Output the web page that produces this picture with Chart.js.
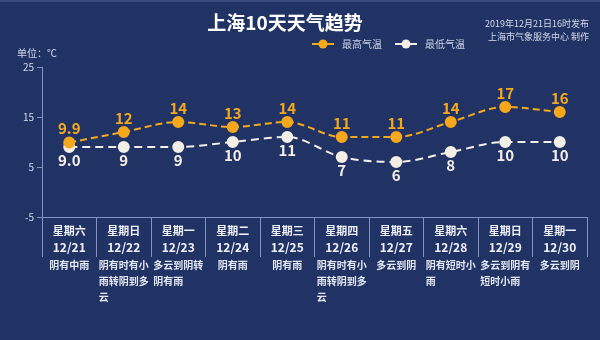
<!DOCTYPE html>
<html>
<head>
<meta charset="utf-8">
<script src="https://cdn.jsdelivr.net/npm/chart.js@4/dist/chart.umd.min.js"></script>
<style>
  html, body { margin: 0; padding: 0; background: #213365; }
  #wrap { width: 600px; height: 340px; }
</style>
</head>
<body>
<div id="wrap"><canvas id="weatherChart" width="600" height="340"></canvas></div>
<script>
// datos del pronóstico
const weekdays = ["星期六", "星期日", "星期一", "星期二", "星期三", "星期四", "星期五", "星期六", "星期日", "星期一"];
const dates = ["12/21", "12/22", "12/23", "12/24", "12/25", "12/26", "12/27", "12/28", "12/29", "12/30"];
const weather = ["阴有中雨", "阴有时有小雨转阴到多云", "多云到阴转阴有雨", "阴有雨", "阴有雨", "阴有时有小雨转阴到多云", "多云到阴", "阴有短时小雨", "多云到阴有短时小雨", "多云到阴"];
const highTemps = [9.9, 12, 14, 13, 14, 11, 11, 14, 17, 16];
const lowTemps = [9.0, 9, 9, 10, 11, 7, 6, 8, 10, 10];
const highLabels = ["9.9", "12", "14", "13", "14", "11", "11", "14", "17", "16"];
const lowLabels = ["9.0", "9", "9", "10", "11", "7", "6", "8", "10", "10"];
const yTicks = [-5, 5, 15, 25];

const FONT = '"Noto Sans CJK SC", "Noto Sans", sans-serif';
const ORANGE = "#f5a81c";
const WHITE = "#f3eee6";
const AXIS = "#8393bf";

// cabecera: título, leyenda, unidad
const headerPlugin = {
  id: "header",
  beforeDraw(chart) {
    const ctx = chart.ctx;
    ctx.save();
    ctx.fillStyle = "#3b4b7b";
    ctx.fillRect(0, 0, chart.width, 2);

    ctx.fillStyle = "#ffffff";
    ctx.font = "bold 19px " + FONT;
    ctx.textAlign = "center";
    ctx.textBaseline = "middle";
    ctx.fillText("上海10天天气趋势", 285, 23);

    ctx.font = "9px " + FONT;
    ctx.fillStyle = "#d4daea";
    ctx.textAlign = "right";
    ctx.fillText("2019年12月21日16时发布", 589, 24);
    ctx.fillText("上海市气象服务中心 制作", 589, 37);

    ctx.textAlign = "left";
    ctx.font = "10px " + FONT;
    ctx.fillText("单位：℃", 17, 53);

    // leyenda
    const items = [
      { x: 312, color: ORANGE, text: "最高气温" },
      { x: 395, color: WHITE, text: "最低气温" }
    ];
    items.forEach(it => {
      ctx.strokeStyle = it.color;
      ctx.lineWidth = 2;
      ctx.beginPath();
      ctx.moveTo(it.x, 44);
      ctx.lineTo(it.x + 22, 44);
      ctx.stroke();
      ctx.fillStyle = it.color;
      ctx.beginPath();
      ctx.arc(it.x + 11, 44, 4.5, 0, Math.PI * 2);
      ctx.fill();
      ctx.fillStyle = "#c9d0e3";
      ctx.font = "10px " + FONT;
      ctx.fillText(it.text, it.x + 30, 44);
    });
    ctx.restore();
  }
};

// etiquetas de valores sobre/bajo los puntos
const valueLabelsPlugin = {
  id: "valueLabels",
  afterDatasetsDraw(chart) {
    const ctx = chart.ctx;
    ctx.save();
    ctx.font = "bold 15px " + FONT;
    ctx.textAlign = "center";
    ctx.textBaseline = "middle";
    chart.data.datasets.forEach((ds, di) => {
      const meta = chart.getDatasetMeta(di);
      meta.data.forEach((pt, i) => {
        ctx.fillStyle = ds.labelColor;
        ctx.fillText(ds.valueLabels[i], pt.x, pt.y + ds.labelOffset);
      });
    });
    ctx.restore();
  }
};

// etiquetas del eje x: día, fecha y descripción
const xLabelsPlugin = {
  id: "xLabels",
  afterDraw(chart) {
    const ctx = chart.ctx;
    const xs = chart.scales.x;
    ctx.save();
    ctx.textBaseline = "middle";
    weekdays.forEach((d, i) => {
      const x = xs.getPixelForValue(i);
      ctx.fillStyle = "#eef1f8";
      ctx.textAlign = "center";
      ctx.font = "bold 11px " + FONT;
      ctx.fillText(d, x, 231);
      ctx.font = "bold 12px " + FONT;
      ctx.fillText(dates[i], x, 247);

      ctx.font = "bold 10px " + FONT;
      ctx.fillStyle = "#e3e7f1";
      const lines = [];
      for (let k = 0; k < weather[i].length; k += 5) lines.push(weather[i].slice(k, k + 5));
      const w = Math.max(...lines.map(l => ctx.measureText(l).width));
      ctx.textAlign = "left";
      lines.forEach((l, j) => ctx.fillText(l, x - w / 2, 265 + j * 16));
    });
    ctx.restore();
  }
};

new Chart(document.getElementById("weatherChart"), {
  type: "line",
  data: {
    labels: dates,
    datasets: [
      {
        label: "最高气温",
        data: highTemps,
        valueLabels: highLabels,
        labelColor: ORANGE,
        labelOffset: -14,
        borderColor: ORANGE,
        backgroundColor: ORANGE,
        pointBackgroundColor: ORANGE,
        pointBorderColor: ORANGE,
        pointRadius: 5,
        borderWidth: 2,
        borderDash: [7, 4],
        cubicInterpolationMode: "monotone"
      },
      {
        label: "最低气温",
        data: lowTemps,
        valueLabels: lowLabels,
        labelColor: WHITE,
        labelOffset: 13,
        borderColor: WHITE,
        backgroundColor: WHITE,
        pointBackgroundColor: WHITE,
        pointBorderColor: WHITE,
        pointRadius: 5,
        borderWidth: 2,
        borderDash: [8, 5],
        cubicInterpolationMode: "monotone"
      }
    ]
  },
  options: {
    responsive: false,
    animation: false,
    layout: { padding: { top: 67, right: 13, bottom: 83, left: 0 } },
    plugins: {
      legend: { display: false },
      tooltip: { enabled: false }
    },
    scales: {
      x: {
        offset: true,
        grid: { offset: true, drawOnChartArea: false, tickLength: 40, color: AXIS, lineWidth: 1 },
        border: { color: AXIS, width: 1 },
        ticks: { display: false }
      },
      y: {
        min: -5,
        max: 25,
        afterFit(scale) { scale.width = 42; },
        afterBuildTicks(scale) { scale.ticks = yTicks.map(v => ({ value: v })); },
        grid: { drawOnChartArea: false, tickLength: 5, color: AXIS },
        border: { color: AXIS, width: 1 },
        ticks: { color: "#d4daea", font: { size: 10, family: FONT }, padding: 3 }
      }
    }
  },
  plugins: [headerPlugin, valueLabelsPlugin, xLabelsPlugin]
});
</script>
</body>
</html>
